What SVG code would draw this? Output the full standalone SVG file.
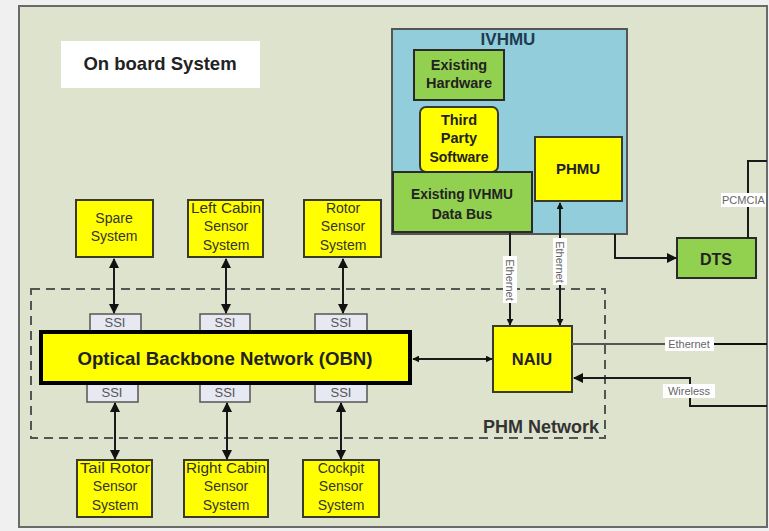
<svg xmlns="http://www.w3.org/2000/svg" width="769" height="531" viewBox="0 0 769 531">
<style>
.t{font-family:"Liberation Sans",Arial,sans-serif;fill:#222;text-anchor:middle}
.b{font-weight:bold}
.s{font-size:14px;fill:#333}
.yel{fill:#ffff00;stroke:#3a3a2a;stroke-width:2}
.grn{fill:#92d050;stroke:#2a2a2a;stroke-width:2}
.ssi{fill:#e6e8f2;stroke:#555;stroke-width:1.5}
.ln{stroke:#1a1a1a;stroke-width:2;fill:none}
.lbl{font-family:"Liberation Sans",Arial,sans-serif;font-size:11px;fill:#666;text-anchor:middle}
</style>
<defs>
<marker id="ah" viewBox="0 0 10 10" refX="9" refY="5" markerWidth="5" markerHeight="5" orient="auto-start-reverse"><path d="M0,0 L10,5 L0,10 z" fill="#111"/></marker>
<marker id="ahs" viewBox="0 0 10 10" refX="9" refY="5" markerWidth="3.5" markerHeight="3.5" orient="auto-start-reverse"><path d="M0,0 L10,5 L0,10 z" fill="#111"/></marker>
</defs>
<rect x="0" y="0" width="769" height="531" fill="#f0f0f0"/>
<rect x="19" y="6" width="748" height="521" fill="#dde3cd" stroke="#6a6a6a" stroke-width="2"/>
<g id="onboard">
<rect x="61" y="41" width="199" height="47" fill="#ffffff"/>
<text class="t b" x="160" y="70" font-size="18.5">On board System</text>
</g>
<g id="phm-network">
<rect x="31" y="289" width="574" height="149" fill="none" stroke="#555" stroke-width="2" stroke-dasharray="9,6"/>
<text class="t b" x="541" y="433" font-size="18" style="fill:#333">PHM Network</text>
</g>
<g id="ivhmu">
<rect x="392" y="29" width="235" height="205" fill="#92cddc" stroke="#555" stroke-width="2"/>
<text class="t b" x="508" y="45" font-size="17" style="fill:#1f3b50">IVHMU</text>
</g>
<g id="existing-hardware">
<rect class="grn" x="414" y="50" width="90" height="50"/>
<text class="t b" x="459" y="70" font-size="14.5">Existing</text>
<text class="t b" x="459" y="88" font-size="14.5">Hardware</text>
</g>
<g id="third-party">
<rect class="yel" x="420" y="107" width="78" height="65" rx="6"/>
<text class="t b" x="459" y="125" font-size="14.5">Third</text>
<text class="t b" x="459" y="143" font-size="14.5">Party</text>
<text class="t b" x="459" y="162" font-size="14">Software</text>
</g>
<g id="phmu">
<rect class="yel" x="535" y="137" width="87" height="64"/>
<text class="t b" x="578" y="174" font-size="15">PHMU</text>
</g>
<g id="data-bus">
<rect class="grn" x="393" y="172" width="139" height="60" stroke-width="3"/>
<text class="t b" x="462" y="199" font-size="14" textLength="102" lengthAdjust="spacingAndGlyphs">Existing IVHMU</text>
<text class="t b" x="462" y="219" font-size="14">Data Bus</text>
</g>
<g id="dts">
<rect class="grn" x="677" y="238" width="79" height="40"/>
<text class="t b" x="716" y="265" font-size="16">DTS</text>
</g>
<g id="spare">
<rect class="yel" x="76" y="200" width="77" height="57"/>
<text class="t s" x="114" y="223">Spare</text>
<text class="t s" x="114" y="241">System</text>
</g>
<g id="left-cabin">
<rect class="yel" x="188" y="200" width="75" height="57"/>
<text class="t s" x="226" y="213" textLength="70" lengthAdjust="spacingAndGlyphs">Left Cabin</text>
<text class="t s" x="226" y="231">Sensor</text>
<text class="t s" x="226" y="250">System</text>
</g>
<g id="rotor">
<rect class="yel" x="304" y="200" width="77" height="57"/>
<text class="t s" x="343" y="213">Rotor</text>
<text class="t s" x="343" y="231">Sensor</text>
<text class="t s" x="343" y="250">System</text>
</g>
<g id="tail-rotor">
<rect class="yel" x="77" y="460" width="75" height="57"/>
<text class="t s" x="115" y="473" textLength="70" lengthAdjust="spacingAndGlyphs">Tail Rotor</text>
<text class="t s" x="115" y="491">Sensor</text>
<text class="t s" x="115" y="510">System</text>
</g>
<g id="right-cabin">
<rect class="yel" x="184" y="460" width="84" height="57"/>
<text class="t s" x="226" y="473" textLength="80" lengthAdjust="spacingAndGlyphs">Right Cabin</text>
<text class="t s" x="226" y="491">Sensor</text>
<text class="t s" x="226" y="510">System</text>
</g>
<g id="cockpit">
<rect class="yel" x="303" y="460" width="76" height="57"/>
<text class="t s" x="341" y="473">Cockpit</text>
<text class="t s" x="341" y="491">Sensor</text>
<text class="t s" x="341" y="510">System</text>
</g>
<g id="ssi">
<rect class="ssi" x="90" y="314" width="51" height="18"/>
<rect class="ssi" x="200" y="314" width="50" height="18"/>
<rect class="ssi" x="315" y="314" width="52" height="18"/>
<rect class="ssi" x="87" y="384" width="51" height="18"/>
<rect class="ssi" x="200" y="384" width="50" height="18"/>
<rect class="ssi" x="315" y="384" width="52" height="18"/>
<g class="t" font-size="13" style="fill:#555">
<text x="115" y="327">SSI</text><text x="225" y="327">SSI</text><text x="341" y="327">SSI</text>
<text x="112" y="397">SSI</text><text x="225" y="397">SSI</text><text x="341" y="397">SSI</text>
</g>
</g>
<g id="obn">
<rect x="41" y="332" width="369" height="51" fill="#ffff00" stroke="#000" stroke-width="4"/>
<text class="t b" x="225" y="365" font-size="18" textLength="295" lengthAdjust="spacingAndGlyphs">Optical Backbone Network (OBN)</text>
</g>
<g id="naiu">
<rect class="yel" x="493" y="326" width="79" height="66"/>
<text class="t b" x="532" y="365" font-size="16.5">NAIU</text>
</g>
<g id="connectors">
<line class="ln" x1="114" y1="259" x2="114" y2="313" marker-start="url(#ah)" marker-end="url(#ah)"/>
<line class="ln" x1="226" y1="259" x2="226" y2="313" marker-start="url(#ah)" marker-end="url(#ah)"/>
<line class="ln" x1="343" y1="259" x2="343" y2="313" marker-start="url(#ah)" marker-end="url(#ah)"/>
<line class="ln" x1="115" y1="403" x2="115" y2="459" marker-start="url(#ah)" marker-end="url(#ah)"/>
<line class="ln" x1="227" y1="403" x2="227" y2="459" marker-start="url(#ah)" marker-end="url(#ah)"/>
<line class="ln" x1="341" y1="403" x2="341" y2="459" marker-start="url(#ah)" marker-end="url(#ah)"/>
<line class="ln" x1="413" y1="359" x2="492" y2="359" marker-start="url(#ahs)" marker-end="url(#ahs)"/>
<line class="ln" x1="510" y1="233" x2="510" y2="325" marker-end="url(#ahs)"/>
<line class="ln" x1="560" y1="203" x2="560" y2="325" marker-start="url(#ahs)" marker-end="url(#ahs)"/>
<path class="ln" d="M615,234 V258 H676" marker-end="url(#ah)"/>
<path class="ln" d="M748,238 V161 H767"/>
<line x1="572" y1="344" x2="767" y2="344" stroke="#555" stroke-width="2"/>
<line x1="710" y1="344" x2="767" y2="344" stroke="#111" stroke-width="2"/>
<path class="ln" d="M767,406 H690 V378 H574" marker-end="url(#ah)"/>
<rect x="503" y="256" width="14" height="47" fill="#fff"/>
<text class="lbl" transform="translate(510,280) rotate(90)" y="4">Ethernet</text>
<rect x="553" y="238" width="14" height="47" fill="#fff"/>
<text class="lbl" transform="translate(560,262) rotate(90)" y="4">Ethernet</text>
<rect x="665" y="337" width="49" height="14" fill="#fff"/>
<text class="lbl" x="689" y="348">Ethernet</text>
<rect x="663" y="384" width="52" height="14" fill="#fff"/>
<text class="lbl" x="689" y="395">Wireless</text>
<rect x="721" y="193" width="45" height="14" fill="#fff"/>
<text class="lbl" x="722" y="204" style="text-anchor:start">PCMCIA</text>
</g>
</svg>
